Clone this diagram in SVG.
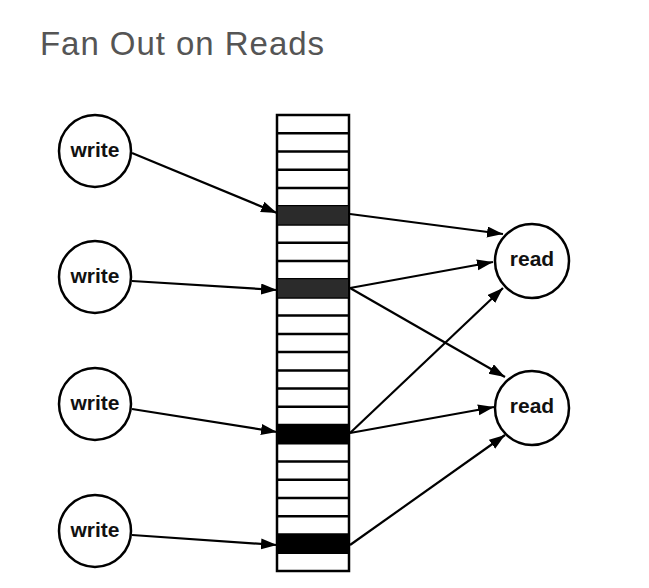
<svg xmlns="http://www.w3.org/2000/svg" width="649" height="588" viewBox="0 0 649 588">
<defs>
<style>
.title{font-family:"Liberation Sans",Arial,sans-serif;font-size:33px;fill:#555}
.node circle{fill:#fff;stroke:#000;stroke-width:2.5}
.node text{font-family:"Liberation Sans",Arial,sans-serif;font-size:21px;font-weight:bold;fill:#111;text-anchor:middle}
.cell{fill:#fff;stroke:#000;stroke-width:2.5}
.dark{fill:#2b2b2b}
.black{fill:#000}
.conn line{stroke:#000;stroke-width:2.2;marker-end:url(#ah)}
</style>
<marker id="ah" markerUnits="userSpaceOnUse" markerWidth="18" markerHeight="12" refX="16" refY="5.5" orient="auto">
<path d="M0,0 L16,5.5 L0,11 z" fill="#000"/>
</marker>
</defs>
<rect width="649" height="588" fill="#fff"/>
<text class="title" x="40" y="55" textLength="284" lengthAdjust="spacing">Fan Out on Reads</text>

<g id="log">
<rect class="cell" x="277" y="115" width="72" height="456"/>
<g stroke="#000" stroke-width="2.5">
<line x1="277" y1="133.2" x2="349" y2="133.2"/>
<line x1="277" y1="151.5" x2="349" y2="151.5"/>
<line x1="277" y1="169.7" x2="349" y2="169.7"/>
<line x1="277" y1="188" x2="349" y2="188"/>
<line x1="277" y1="206.2" x2="349" y2="206.2"/>
<line x1="277" y1="224.4" x2="349" y2="224.4"/>
<line x1="277" y1="242.7" x2="349" y2="242.7"/>
<line x1="277" y1="260.9" x2="349" y2="260.9"/>
<line x1="277" y1="279.2" x2="349" y2="279.2"/>
<line x1="277" y1="297.4" x2="349" y2="297.4"/>
<line x1="277" y1="315.6" x2="349" y2="315.6"/>
<line x1="277" y1="333.9" x2="349" y2="333.9"/>
<line x1="277" y1="352.1" x2="349" y2="352.1"/>
<line x1="277" y1="370.4" x2="349" y2="370.4"/>
<line x1="277" y1="388.6" x2="349" y2="388.6"/>
<line x1="277" y1="406.8" x2="349" y2="406.8"/>
<line x1="277" y1="425.1" x2="349" y2="425.1"/>
<line x1="277" y1="443.3" x2="349" y2="443.3"/>
<line x1="277" y1="461.6" x2="349" y2="461.6"/>
<line x1="277" y1="479.8" x2="349" y2="479.8"/>
<line x1="277" y1="498" x2="349" y2="498"/>
<line x1="277" y1="516.3" x2="349" y2="516.3"/>
<line x1="277" y1="534.5" x2="349" y2="534.5"/>
<line x1="277" y1="552.8" x2="349" y2="552.8"/>
</g>
<rect class="dark" x="278" y="206.2" width="70" height="18.2"/>
<rect class="dark" x="278" y="279.2" width="70" height="18.2"/>
<rect class="black" x="278" y="425.1" width="70" height="18.2"/>
<rect class="black" x="278" y="534.5" width="70" height="18.3"/>
</g>

<g class="conn">
<line x1="132" y1="153" x2="277" y2="213"/>
<line x1="132" y1="281" x2="277" y2="290"/>
<line x1="132" y1="409" x2="277" y2="432"/>
<line x1="132" y1="535" x2="277" y2="545"/>
<line x1="350" y1="214" x2="503" y2="234"/>
<line x1="350" y1="288" x2="493" y2="262"/>
<line x1="350" y1="288" x2="505" y2="377"/>
<line x1="350" y1="433" x2="503" y2="288"/>
<line x1="350" y1="433" x2="494" y2="407"/>
<line x1="350" y1="545" x2="505" y2="435"/>
</g>

<g id="write1" class="node"><circle cx="95" cy="151" r="36"/><text x="95" y="157">write</text></g>
<g id="write2" class="node"><circle cx="95" cy="277" r="36"/><text x="95" y="283">write</text></g>
<g id="write3" class="node"><circle cx="95" cy="404" r="36"/><text x="95" y="410">write</text></g>
<g id="write4" class="node"><circle cx="95" cy="531" r="36"/><text x="95" y="537">write</text></g>
<g id="read1" class="node"><circle cx="532" cy="261" r="37"/><text x="532" y="266">read</text></g>
<g id="read2" class="node"><circle cx="532" cy="408" r="37"/><text x="532" y="413">read</text></g>
</svg>
